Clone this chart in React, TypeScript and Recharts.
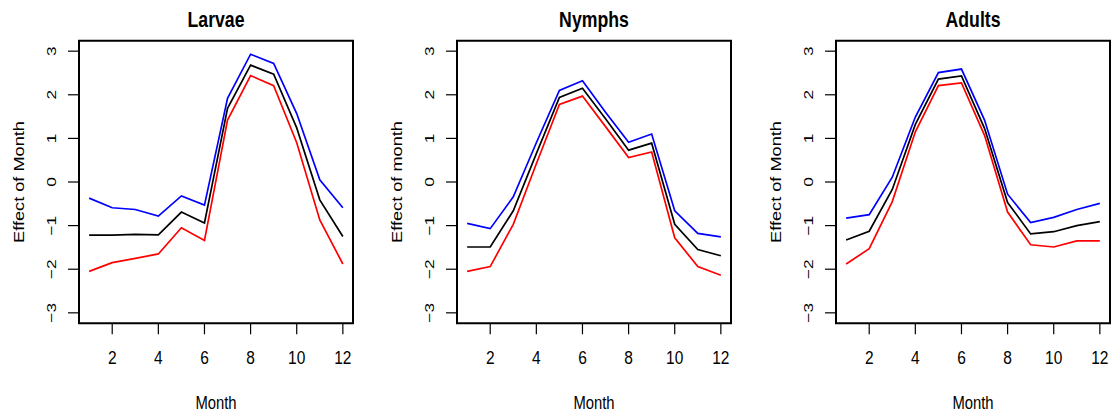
import React from 'react';
import { LineChart, Line, XAxis, YAxis, ReferenceArea } from 'recharts';

const months = [1, 2, 3, 4, 5, 6, 7, 8, 9, 10, 11, 12];
const xTicks = [2, 4, 6, 8, 10, 12];
const yTicks = [-3, -2, -1, 0, 1, 2, 3];

const larvaeUpper = [-0.37, -0.59, -0.63, -0.78, -0.32, -0.53, 1.92, 2.93, 2.72, 1.57, 0.05, -0.59];
const larvaeFit = [-1.22, -1.22, -1.2, -1.21, -0.69, -0.94, 1.69, 2.68, 2.47, 1.24, -0.41, -1.25];
const larvaeLower = [-2.05, -1.85, -1.75, -1.65, -1.05, -1.34, 1.42, 2.44, 2.21, 0.9, -0.87, -1.88];

const nymphsUpper = [-0.95, -1.07, -0.34, 0.9, 2.1, 2.32, 1.6, 0.91, 1.1, -0.66, -1.18, -1.26];
const nymphsFit = [-1.49, -1.49, -0.66, 0.65, 1.94, 2.15, 1.45, 0.73, 0.89, -0.97, -1.55, -1.69];
const nymphsLower = [-2.05, -1.94, -0.97, 0.42, 1.78, 1.97, 1.27, 0.56, 0.69, -1.28, -1.94, -2.14];

const adultsUpper = [-0.83, -0.75, 0.11, 1.49, 2.51, 2.59, 1.42, -0.28, -0.93, -0.81, -0.63, -0.49];
const adultsFit = [-1.33, -1.13, -0.17, 1.32, 2.36, 2.43, 1.23, -0.47, -1.19, -1.14, -1.0, -0.91];
const adultsLower = [-1.88, -1.53, -0.45, 1.15, 2.21, 2.27, 1.07, -0.69, -1.44, -1.49, -1.35, -1.35];

const titles = ['Larvae', 'Nymphs', 'Adults'];
const yLabels = ['Effect of Month', 'Effect of month', 'Effect of Month'];
const xLabel = 'Month';

const X_DOMAIN: [number, number] = [0.56, 12.44];
const Y_DOMAIN: [number, number] = [-3.24, 3.24];
const FONT = '"Liberation Sans", Arial, Helvetica, sans-serif';
const STRETCH = 1.22;

const fmt = (v: number) => (v < 0 ? '\u2212' + Math.abs(v) : String(v));

const XTick = (props: any) => {
  const { x, y, payload } = props;
  return (
    <text
      transform={`translate(${x},${y + 29.7}) scale(1,${STRETCH})`}
      textAnchor="middle"
      fontSize={15.5}
      fontFamily={FONT}
      fill="#000"
    >
      {fmt(payload.value)}
    </text>
  );
};

const YTick = (props: any) => {
  const { x, y, payload } = props;
  return (
    <text
      transform={`translate(${x - 12},${y}) scale(1,1.28) rotate(-90)`}
      textAnchor="middle"
      fontSize={13.5}
      fontFamily={FONT}
      fill="#000"
    >
      {fmt(payload.value)}
    </text>
  );
};

const makeYLabel = (text: string) => (props: any) => {
  const vb = props.viewBox || { x: 19, y: 40.7, width: 60, height: 282.6 };
  return (
    <text
      transform={`translate(${vb.x + 5},${vb.y + vb.height / 2}) scale(1,${STRETCH}) rotate(-90)`}
      textAnchor="middle"
      fontSize={14.9}
      fontFamily={FONT}
      fill="#000"
    >
      {text}
    </text>
  );
};

const makeXLabel = (text: string) => (props: any) => {
  const vb = props.viewBox || { x: 79, y: 323.3, width: 274, height: 90 };
  return (
    <text
      transform={`translate(${vb.x + vb.width / 2},${vb.y + 86}) scale(1,1.25)`}
      textAnchor="middle"
      fontSize={14.8}
      fontFamily={FONT}
      fill="#000"
    >
      {text}
    </text>
  );
};

const makeTitle = (text: string) => (props: any) => {
  const vb = props.viewBox || { x: 79, y: 40.7, width: 274, height: 282.6 };
  return (
    <text
      transform={`translate(${vb.x + vb.width / 2},${vb.y - 13.4}) scale(1,${STRETCH})`}
      textAnchor="middle"
      fontSize={17.7}
      fontWeight="bold"
      fontFamily={FONT}
      fill="#000"
    >
      {text}
    </text>
  );
};

type PanelProps = {
  title: string;
  yLabel: string;
  upper: number[];
  fit: number[];
  lower: number[];
  left: number;
};

const Panel = ({ title, yLabel, upper, fit, lower, left }: PanelProps) => {
  const data = months.map((m, i) => ({ month: m, upper: upper[i], fit: fit[i], lower: lower[i] }));
  return (
    <div style={{ position: 'absolute', left, top: 0 }}>
      <LineChart
        width={355}
        height={414}
        data={data}
        margin={{ top: 40.7, right: 2, bottom: 0.7, left: 19 }}
      >
        <XAxis
          dataKey="month"
          type="number"
          domain={X_DOMAIN}
          ticks={xTicks}
          allowDataOverflow
          axisLine={false}
          tickSize={11}
          tickMargin={0}
          tickLine={{ stroke: '#000', strokeWidth: 1.2 }}
          tick={<XTick />}
          height={90}
          interval={0}
          label={{ content: makeXLabel(xLabel) }}
        />
        <YAxis
          type="number"
          domain={Y_DOMAIN}
          ticks={yTicks}
          allowDataOverflow
          axisLine={false}
          tickSize={11}
          tickMargin={0}
          tickLine={{ stroke: '#000', strokeWidth: 1.2 }}
          tick={<YTick />}
          width={60}
          interval={0}
          label={{ content: makeYLabel(yLabel) }}
        />
        <Line type="linear" dataKey="upper" stroke="#0000ff" strokeWidth={1.7} dot={false} isAnimationActive={false} />
        <Line type="linear" dataKey="lower" stroke="#ff0000" strokeWidth={1.7} dot={false} isAnimationActive={false} />
        <Line type="linear" dataKey="fit" stroke="#000000" strokeWidth={1.7} dot={false} isAnimationActive={false} />
        <ReferenceArea
          x1={X_DOMAIN[0]}
          x2={X_DOMAIN[1]}
          y1={Y_DOMAIN[0]}
          y2={Y_DOMAIN[1]}
          fill="none"
          fillOpacity={0}
          stroke="#000"
          strokeWidth={2}
          ifOverflow="visible"
          label={{ content: makeTitle(title) }}
        />
      </LineChart>
    </div>
  );
}

export default function App() {
  return (
    <div
      style={{
        position: 'absolute',
        left: 0,
        top: 0,
        width: 1111,
        height: 414,
        overflow: 'hidden',
        background: '#fff',
      }}
    >
      <Panel title={titles[0]} yLabel={yLabels[0]} upper={larvaeUpper} fit={larvaeFit} lower={larvaeLower} left={0} />
      <Panel title={titles[1]} yLabel={yLabels[1]} upper={nymphsUpper} fit={nymphsFit} lower={nymphsLower} left={378.3} />
      <Panel title={titles[2]} yLabel={yLabels[2]} upper={adultsUpper} fit={adultsFit} lower={adultsLower} left={756.7} />
    </div>
  );
}
